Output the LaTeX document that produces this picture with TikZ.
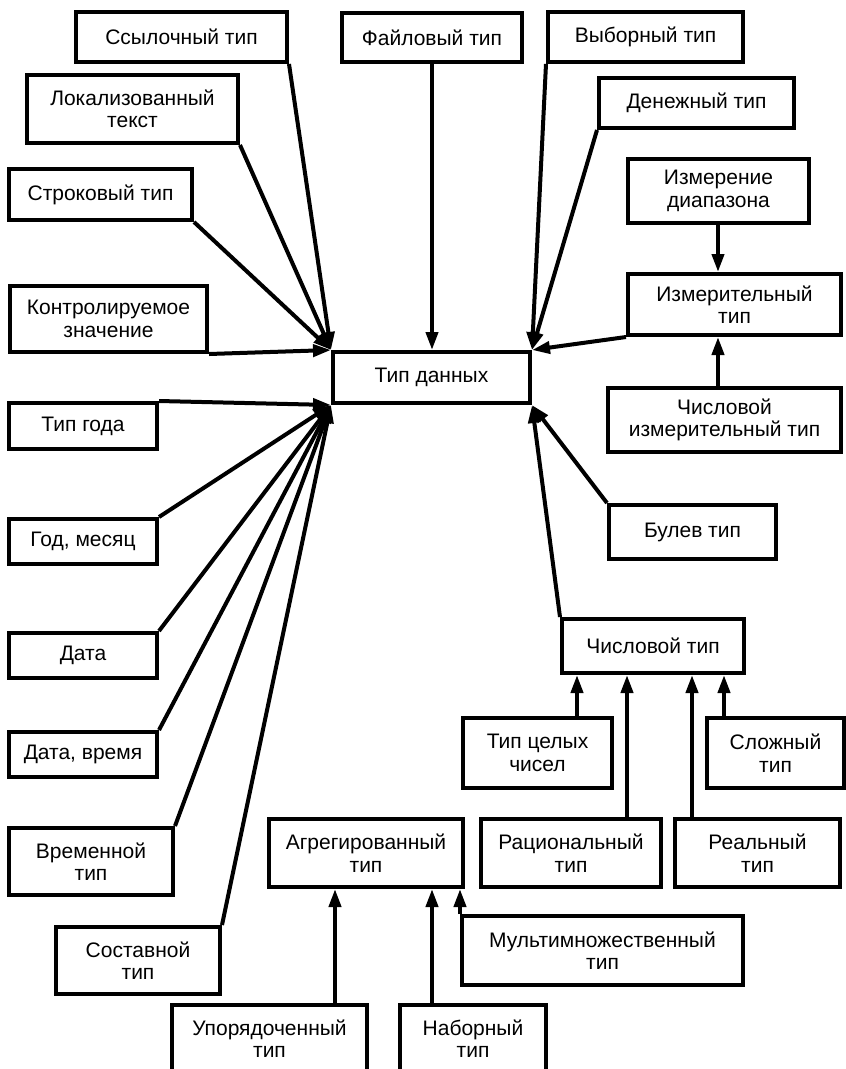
\documentclass[tikz,border=0pt]{standalone}
\usepackage{fontspec}
\setmainfont{Liberation Sans}
\usetikzlibrary{arrows.meta}
\newcommand\mkbox[6]{\node[box, minimum width={#4-#2}, minimum height={#5-#3}] (#1) at ({(#2+#4)/2},{(#3+#5)/2}) {#6};}
\begin{document}
\begin{tikzpicture}[x=1pt,y=-1pt,
  box/.style={draw, line width=4pt, inner sep=0pt, align=center, font=\fontsize{21}{22.5}\selectfont},
  arr/.style={line width=4pt, -{Triangle[length=18pt,width=12pt]}}]
\useasboundingbox (0,0) rectangle (846,1069);
\mkbox{ssyl}{76}{12}{287}{62}{Ссылочный тип}
\mkbox{lok}{27}{75}{238}{143}{Локализованный\\текст}
\mkbox{strok}{9}{169}{192}{220}{Строковый тип}
\mkbox{kontr}{10}{286}{207}{352}{Контролируемое\\значение}
\mkbox{td}{333}{352}{530}{403}{Тип данных}
\mkbox{tipg}{9}{403}{157}{449}{Тип года}
\mkbox{godm}{9}{519}{157}{564}{Год, месяц}
\mkbox{data}{9}{633}{157}{678}{Дата}
\mkbox{datav}{9}{732}{157}{777}{Дата, время}
\mkbox{vrem}{9}{828}{173}{895}{Временной\\тип}
\mkbox{sost}{56}{927}{220}{994}{Составной\\тип}
\mkbox{fayl}{342}{13}{522}{62}{Файловый тип}
\mkbox{vyb}{548}{12}{743}{62}{Выборный тип}
\mkbox{den}{599}{78}{794}{128}{Денежный тип}
\mkbox{izmd}{628}{159}{809}{223}{Измерение\\диапазона}
\mkbox{izmt}{628}{274}{841}{335}{Измерительный\\тип}
\mkbox{chizm}{608}{388}{841}{452}{Числовой\\измерительный тип}
\mkbox{bul}{609}{505}{776}{559}{Булев тип}
\mkbox{chis}{562}{619}{744}{673}{Числовой тип}
\mkbox{cel}{463}{718}{612}{788}{Тип целых\\чисел}
\mkbox{slozh}{707}{718}{844}{788}{Сложный\\тип}
\mkbox{rac}{481}{819}{661}{887}{Рациональный\\тип}
\mkbox{real}{675}{819}{840}{887}{Реальный\\тип}
\mkbox{agr}{269}{819}{463}{887}{Агрегированный\\тип}
\mkbox{multi}{462}{916}{743}{985}{Мультимножественный\\тип}
\mkbox{upor}{172}{1005}{367}{1072}{Упорядоченный\\тип}
\mkbox{nabor}{400}{1005}{546}{1072}{Наборный\\тип}
% x positions of vertical connectors
\coordinate (x577) at (577,0);
\coordinate (x627) at (627,0);
\coordinate (x692) at (692,0);
\coordinate (x724) at (724,0);
\coordinate (x335) at (335,0);
\coordinate (x432) at (432,0);
\coordinate (x718) at (718,0);
% into Тип данных, top-left
\draw[arr] (ssyl.south east) -- (td.north west);
\draw[arr] (lok.south east) -- (td.north west);
\draw[arr] (strok.south east) -- (td.north west);
\draw[arr] (kontr.south east) -- (td.north west);
% bottom-left
\draw[arr] (tipg.north east) -- (td.south west);
\draw[arr] (godm.north east) -- (td.south west);
\draw[arr] (data.north east) -- (td.south west);
\draw[arr] (datav.north east) -- (td.south west);
\draw[arr] (vrem.north east) -- (td.south west);
\draw[arr] (sost.north east) -- (td.south west);
% top
\draw[arr] (fayl.south -| x432) -- (td.north -| x432);
% right
\draw[arr] (vyb.south west) -- (td.north east);
\draw[arr] (den.south west) -- (td.north east);
\draw[arr] (izmt.south west) -- (td.north east);
\draw[arr] (bul.north west) -- (td.south east);
\draw[arr] (chis.north west) -- (td.south east);
% measure
\draw[arr] (izmd.south -| x718) -- (izmt.north -| x718);
\draw[arr] (chizm.north -| x718) -- (izmt.south -| x718);
% numeric
\draw[arr] (cel.north -| x577) -- (chis.south -| x577);
\draw[arr] (rac.north -| x627) -- (chis.south -| x627);
\draw[arr] (real.north -| x692) -- (chis.south -| x692);
\draw[arr] (slozh.north -| x724) -- (chis.south -| x724);
% aggregate
\draw[arr] (upor.north -| x335) -- (agr.south -| x335);
\draw[arr] (nabor.north -| x432) -- (agr.south -| x432);
\draw[arr] (multi.north west) -- (multi.north west |- agr.south);
\end{tikzpicture}
\end{document}
